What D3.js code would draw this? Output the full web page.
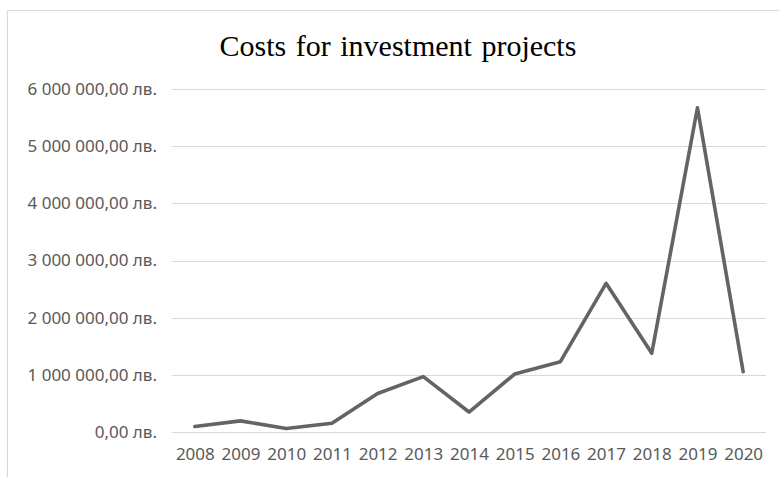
<!DOCTYPE html>
<html>
<head>
    <meta charset="utf-8">
    <style type="text/css">
        body { margin: 0; background: #fff; }
        .axis text { font-family: "Noto Sans", sans-serif; font-size: 17px; fill: #595959; }
        .axis path, .axis line { display: none; }
    </style>
    <script src="https://d3js.org/d3.v7.min.js"></script>
</head>
<body>
    <div id="chart">
        <script>
            const years = ["2008", "2009", "2010", "2011", "2012", "2013", "2014",
                           "2015", "2016", "2017", "2018", "2019", "2020"];
            const costs = [90000, 190000, 55000, 147000, 670000, 965000, 345000,
                           1010000, 1227000, 2600000, 1374000, 5677000, 1050000];
            const yTicks = [0, 1000000, 2000000, 3000000, 4000000, 5000000, 6000000];

            const width = 779, height = 477;

            const bg = d3.formatLocale({
                decimal: ",",
                thousands: "\u00a0",
                grouping: [3],
                currency: ["", "\u00a0лв."]
            });
            const fmt = bg.format("$,.2f");

            const svg = d3.select("#chart")
                .append("svg")
                .attr("width", width)
                .attr("height", height);

            // chart frame (cut off at right and bottom like the picture)
            svg.append("path")
                .attr("d", "M7.5,477 V10.5 H779")
                .attr("fill", "none")
                .attr("stroke", "#d9d9d9")
                .attr("stroke-width", 1.2);

            svg.append("text")
                .attr("x", 398)
                .attr("y", 56)
                .attr("text-anchor", "middle")
                .attr("font-family", "'Liberation Serif', 'Times New Roman', serif")
                .attr("font-size", 30)
                .attr("word-spacing", 2)
                .attr("fill", "#000")
                .text("Costs for investment projects");

            const x = d3.scalePoint()
                .domain(years)
                .range([172, 766])
                .padding(0.5);

            const y = d3.scaleLinear()
                .domain([0, 6000000])
                .range([431.7, 89.3]);

            // gridlines
            svg.append("g")
                .selectAll("line")
                .data(yTicks)
                .enter().append("line")
                .attr("x1", 172)
                .attr("x2", 766)
                .attr("y1", d => Math.round(y(d)) + 0.5)
                .attr("y2", d => Math.round(y(d)) + 0.5)
                .attr("stroke", "#d9d9d9")
                .attr("stroke-width", 1);

            svg.append("g")
                .attr("class", "axis")
                .attr("transform", "translate(172,0)")
                .call(d3.axisLeft(y).tickValues(yTicks).tickFormat(fmt).tickSize(0).tickPadding(15));

            svg.append("g")
                .attr("class", "axis")
                .attr("transform", "translate(0,431.7)")
                .call(d3.axisBottom(x).tickSize(0).tickPadding(16));

            const line = d3.line()
                .x((d, i) => x(years[i]))
                .y(d => y(d));

            svg.append("path")
                .datum(costs)
                .attr("d", line)
                .attr("fill", "none")
                .attr("stroke", "#646464")
                .attr("stroke-width", 3.6)
                .attr("stroke-linejoin", "round")
                .attr("stroke-linecap", "round");
        </script>
    </div>
</body>
</html>
